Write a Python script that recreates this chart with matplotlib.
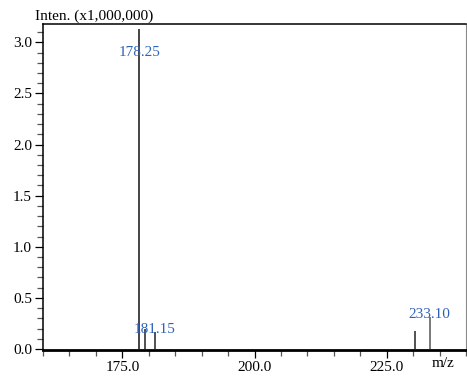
import numpy as np
from matplotlib import pyplot as plt
from matplotlib.ticker import MultipleLocator, FormatStrFormatter

plt.rcParams['font.family'] = ['Liberation Serif', 'DejaVu Serif']

# peaks (m/z, intensity in millions)
mz = [178.25, 179.3, 181.15, 230.3, 233.10]
inten = [3.135, 0.20, 0.165, 0.175, 0.31]
labelled = ['178.25', None, '181.15', None, '233.10']

fig = plt.figure(figsize=(4.67, 3.77), dpi=100)
ax = fig.add_axes([43/467., 27/377., 423/467., 326/377.])

ax.vlines(mz, 0, inten, colors=['#111111', '#222222', '#222222', '#222222', '#555555'], linewidth=1.1)

for x, h, lab in zip(mz, inten, labelled):
  if lab is None:
    continue
  y = h - 0.035
  va = 'bottom'
  if h > 3.0:
    y = h - 0.23
    va = 'center'
  ax.text(x, y, lab, color='#2f62b8', fontsize=11, ha='center', va=va)

ax.set_xlim(160, 240)
ax.set_ylim(-0.01, 3.18)
ax.xaxis.set_major_locator(MultipleLocator(25))
ax.xaxis.set_minor_locator(MultipleLocator(5))
ax.yaxis.set_major_locator(MultipleLocator(0.5))
ax.yaxis.set_minor_locator(MultipleLocator(0.1))
ax.xaxis.set_major_formatter(FormatStrFormatter('%.1f'))
ax.yaxis.set_major_formatter(FormatStrFormatter('%.1f'))
ax.tick_params(axis='both', which='both', direction='out', labelsize=11, pad=2)
ax.tick_params(axis='both', which='major', length=6, width=0.9)
ax.tick_params(axis='both', which='minor', length=4, width=0.9, color='#555555')

ax.spines['bottom'].set_linewidth(2)
ax.spines['left'].set_linewidth(1.1)
ax.spines['top'].set_linewidth(1.1)
ax.spines['right'].set_color('#888888')

fig.text(35/467., 1 - 20/377., 'Inten. (x1,000,000)', fontsize=11, ha='left', va='baseline')
fig.text(432/467., 1 - 367/377., 'm/z', fontsize=11, ha='left', va='baseline')

fig.savefig('out.png', dpi=100)
